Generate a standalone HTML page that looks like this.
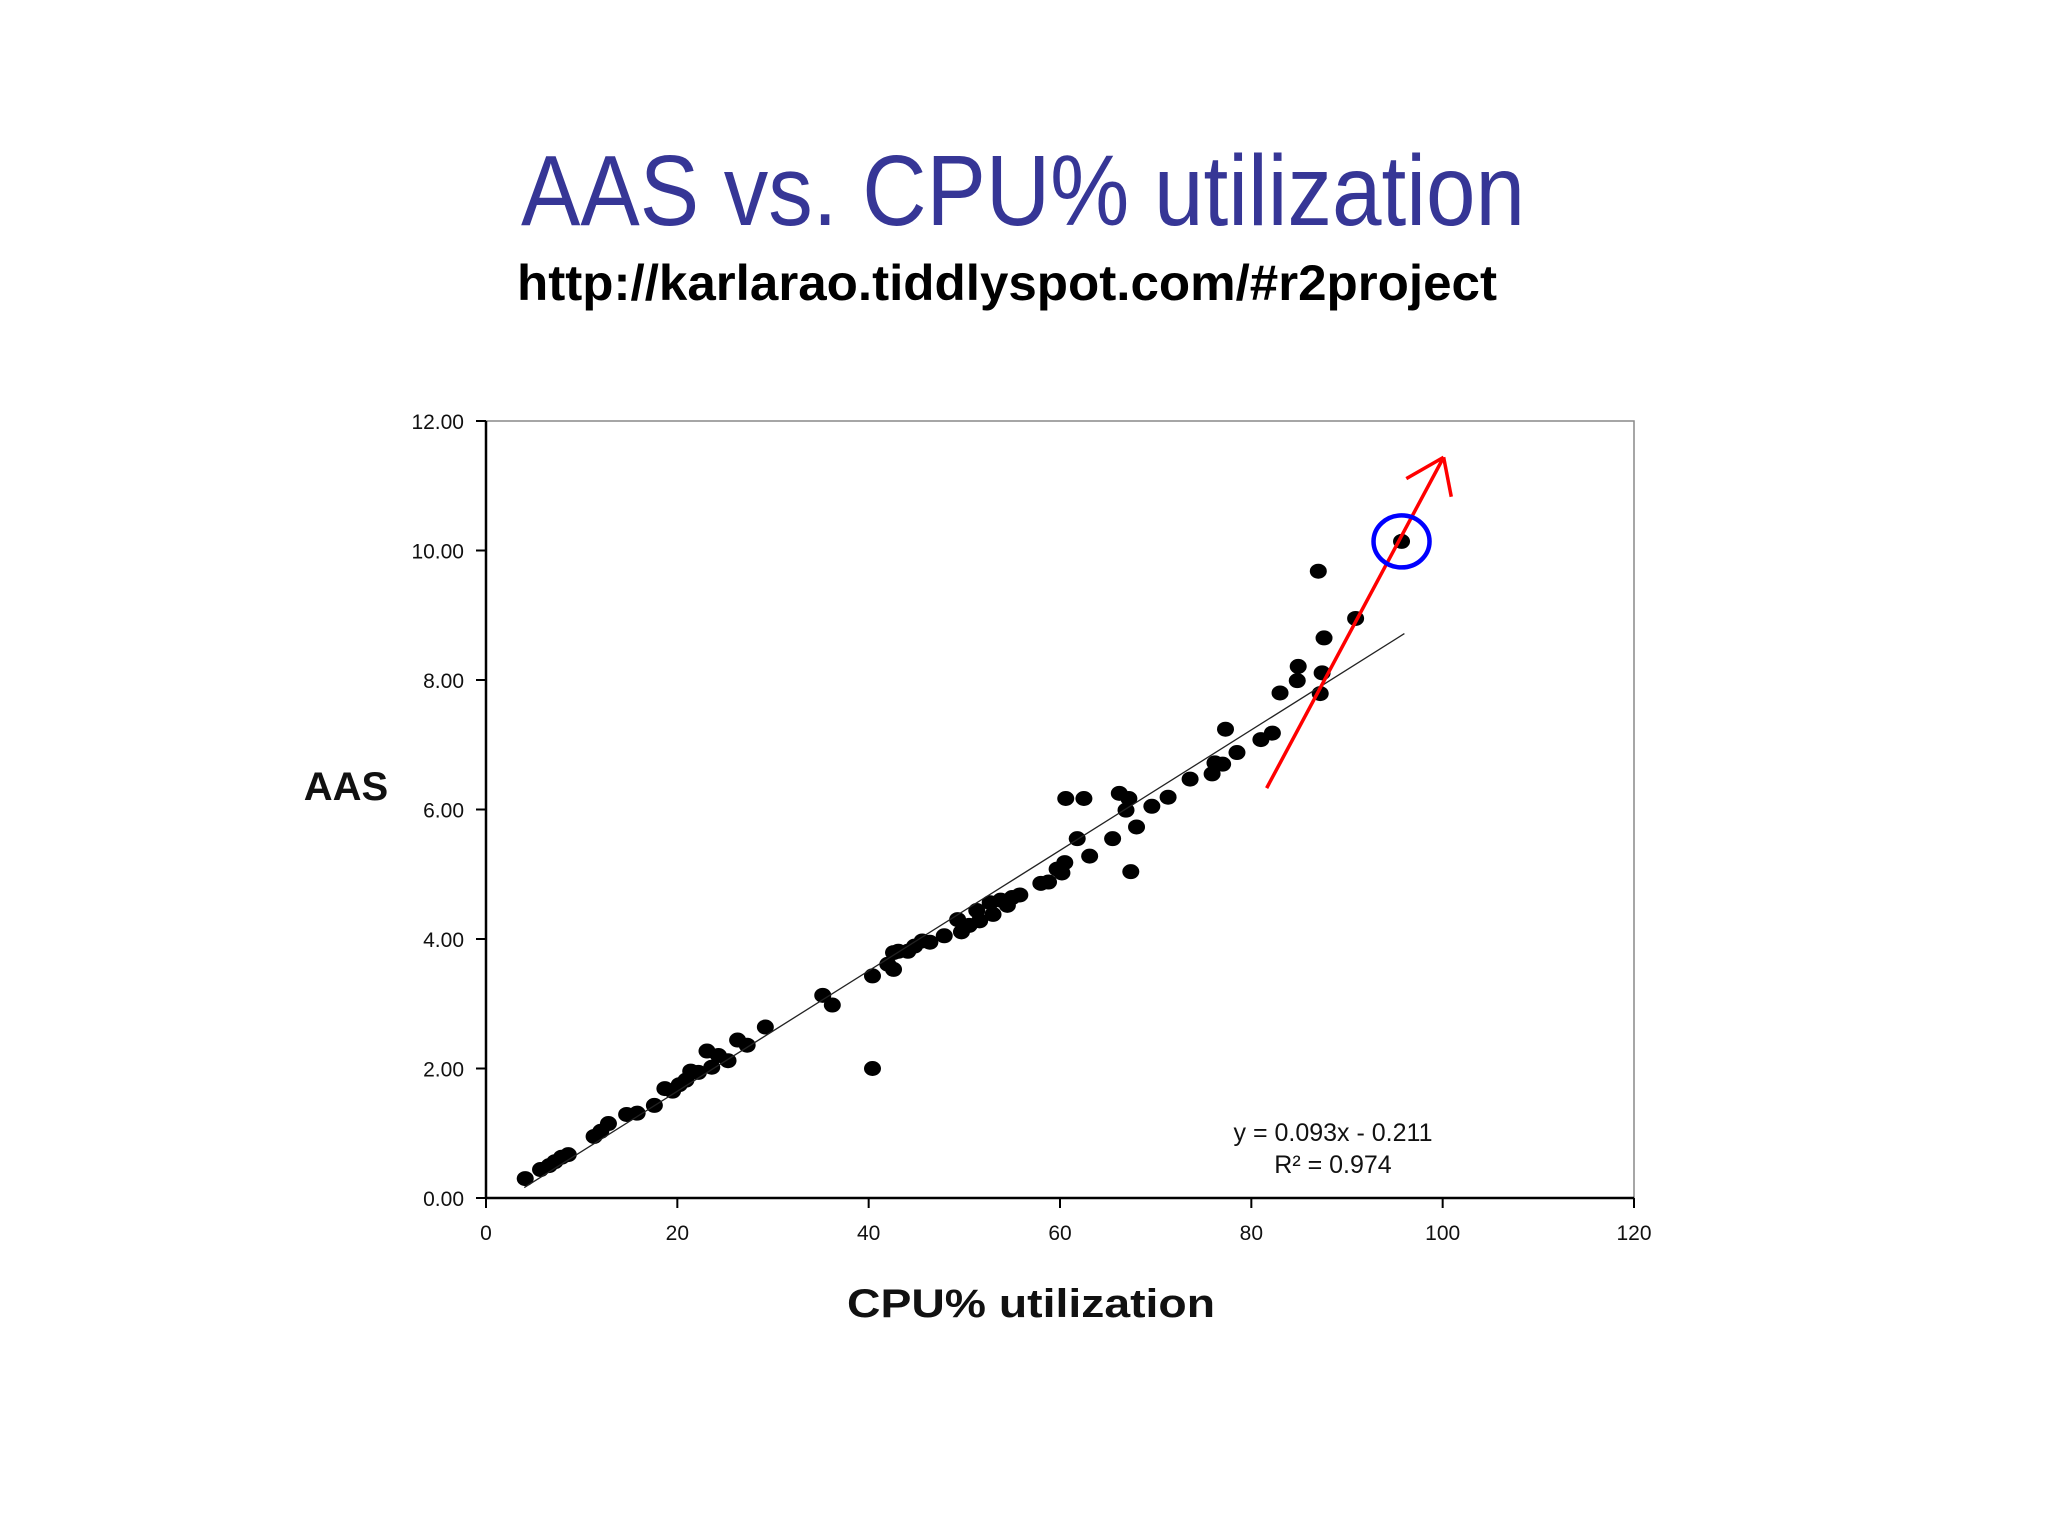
<!DOCTYPE html>
<html><head><meta charset="utf-8"><style>
html,body{margin:0;padding:0;background:#fff;}
svg{display:block;}
</style></head><body>
<svg id="chart" width="2048" height="1536" viewBox="0 0 2048 1536" xmlns="http://www.w3.org/2000/svg">
<text x="1023" y="225" font-family="'Liberation Sans',sans-serif" font-size="100" fill="#363696" text-anchor="middle" textLength="1004" lengthAdjust="spacingAndGlyphs">AAS vs. CPU% utilization</text>
<text x="517" y="300" font-family="'Liberation Sans',sans-serif" font-size="50" font-weight="bold" fill="#000" textLength="980" lengthAdjust="spacingAndGlyphs">http://karlarao.tiddlyspot.com/#r2project</text>
<g id="plot"></g>
<text x="346" y="800" font-family="'Liberation Sans',sans-serif" font-size="40" font-weight="bold" fill="#111" text-anchor="middle">AAS</text>
<text x="1031" y="1317" font-family="'Liberation Sans',sans-serif" font-size="40" font-weight="bold" fill="#111" text-anchor="middle" textLength="368" lengthAdjust="spacingAndGlyphs">CPU% utilization</text>
<text x="1333" y="1141" font-family="'Liberation Sans',sans-serif" font-size="25" fill="#111" text-anchor="middle">y = 0.093x - 0.211</text>
<text x="1333" y="1173" font-family="'Liberation Sans',sans-serif" font-size="25" fill="#111" text-anchor="middle">R² = 0.974</text>
</svg>
<script>
const cpuValues=[4.1,5.7,6.6,7.2,7.9,8.6,11.3,12.0,12.8,14.7,15.8,17.6,18.7,19.5,20.2,20.9,21.4,22.2,23.1,23.6,24.3,25.3,26.3,27.3,29.2,35.2,36.2,40.4,40.4,42.0,42.6,43.1,42.6,44.1,44.8,45.6,46.4,47.9,49.3,49.7,50.5,51.3,51.6,52.7,53.0,53.8,54.5,55.0,55.8,58.0,58.8,59.7,60.5,60.2,60.6,62.5,61.8,63.1,65.5,66.2,67.2,66.9,67.4,68.0,69.6,71.3,73.6,75.9,76.2,77.0,77.3,78.5,81.0,82.2,83.0,84.8,84.9,87.0,87.2,87.4,87.6,90.9,95.7];
const aasValues=[0.30,0.44,0.50,0.56,0.63,0.67,0.95,1.03,1.15,1.29,1.31,1.43,1.69,1.65,1.75,1.82,1.96,1.94,2.27,2.02,2.20,2.12,2.44,2.36,2.64,3.13,2.98,2.00,3.43,3.61,3.79,3.81,3.53,3.81,3.89,3.97,3.95,4.05,4.30,4.11,4.21,4.44,4.28,4.56,4.38,4.60,4.52,4.64,4.68,4.86,4.88,5.08,5.18,5.02,6.17,6.17,5.55,5.28,5.55,6.25,6.17,5.99,5.04,5.73,6.05,6.19,6.47,6.55,6.72,6.70,7.24,6.88,7.08,7.18,7.80,7.99,8.21,9.68,7.79,8.11,8.65,8.95,10.14];
const xTicks=[0,20,40,60,80,100,120];
const yTicks=[0,2,4,6,8,10,12];
const trendSlope=0.093, trendIntercept=-0.211, trendRange=[4,96];
const arrowFrom=[81.6,6.33], arrowTo=[100.1,11.44];
const arrowHeads=[[96.2,11.11],[100.9,10.83]];
const highlightPoint=[95.7,10.14];

const X0=486,X1=1634,Y0=1198,Y1=421;
const sx=v=>X0+(v-0)/120*(X1-X0);
const sy=v=>Y0-(v-0)/12*(Y0-Y1);
const NS='http://www.w3.org/2000/svg';
const g=document.getElementById('plot');
function mk(t,a){const e=document.createElementNS(NS,t);for(const k in a)e.setAttribute(k,a[k]);g.appendChild(e);return e;}

let e=mk('rect',{x:X0,y:Y1,width:X1-X0,height:Y0-Y1,fill:'none',stroke:'#888','stroke-width':1.5});


e=mk('line',{x1:X0,y1:Y1,x2:X0,y2:Y0,stroke:'#000','stroke-width':2.5});


e=mk('line',{x1:X0,y1:Y0,x2:X1,y2:Y0,stroke:'#000','stroke-width':2.5});



yTicks.forEach(v=>{
  let t=mk('line',{x1:X0-10,y1:sy(v),x2:X0,y2:sy(v),stroke:'#000','stroke-width':2});
  
  
  let l=mk('text',{x:X0-22,y:sy(v)+8,'text-anchor':'end','font-family':"'Liberation Sans',sans-serif",'font-size':21,fill:'#111'});
  l.textContent=v.toFixed(2);
  
  
});
xTicks.forEach(v=>{
  let t=mk('line',{x1:sx(v),y1:Y0,x2:sx(v),y2:Y0+10,stroke:'#000','stroke-width':2});
  
  
  let l=mk('text',{x:sx(v),y:Y0+42,'text-anchor':'middle','font-family':"'Liberation Sans',sans-serif",'font-size':21,fill:'#111'});
  l.textContent=String(v);
  
  
});

cpuValues.forEach((c,i)=>{
  let p=mk('ellipse',{cx:sx(c),cy:sy(aasValues[i]),rx:8.5,ry:7.5,fill:'#000'});
  
  
});

e=mk('line',{x1:sx(trendRange[0]),y1:sy(trendSlope*trendRange[0]+trendIntercept),x2:sx(trendRange[1]),y2:sy(trendSlope*trendRange[1]+trendIntercept),stroke:'#222','stroke-width':1.3});



e=mk('line',{x1:sx(arrowFrom[0]),y1:sy(arrowFrom[1]),x2:sx(arrowTo[0]),y2:sy(arrowTo[1]),stroke:'#f00','stroke-width':3.5});


arrowHeads.forEach(h=>{
  let a=mk('line',{x1:sx(arrowTo[0]),y1:sy(arrowTo[1]),x2:sx(h[0]),y2:sy(h[1]),stroke:'#f00','stroke-width':3.5});
  
  
});
e=mk('ellipse',{cx:sx(highlightPoint[0]),cy:sy(highlightPoint[1]),rx:28,ry:26,fill:'none',stroke:'#00f','stroke-width':4.5});


</script>
</body></html>
